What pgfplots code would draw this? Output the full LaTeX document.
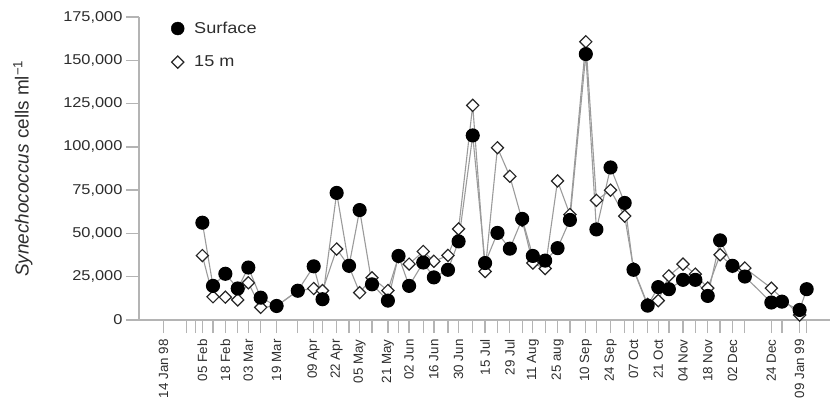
\documentclass[border=0pt]{standalone}
\usepackage{fontspec}
\setmainfont{Liberation Sans}
\newfontfamily\widefont{Liberation Sans}[FakeStretch=1.15]
\usepackage{pgfplots}
\usepackage{pgfplotstable}
\pgfplotsset{compat=1.18}

\definecolor{axisgray}{RGB}{180,180,180}
\definecolor{linegray}{RGB}{155,155,155}
\definecolor{txt}{RGB}{45,45,45}

% day of 1998 (1 Jan 98 = 1), Surface and 15 m cells per ml
\pgfplotstableread{
day surf deep
36  56200  37200
42  19700  13400
49  26700  13200
56  18200  11600
62  30300  21500
69  12900   7300
78   8100   8000
90  16900  16900
99  31000  18200
104 12000  17000
112 73400  41000
119 31300  31000
125 63500  15800
132 20600  24400
141 11200  17000
147 37000  36500
153 19700  32300
161 33200  39600
167 24600  33900
175 29000  37300
181 45400  52600
189 106600 124000
196 32900  28000
203 50300  99500
210 41200  83000
217 58400  57500
223 37000  32900
230 34300  29700
237 41500  80300
244 57800  60900
253 153600 160700
259 52300  69100
267 88100  75000
275 67600  60000
280 29000  29500
288  8300   9000
294 19000  11200
300 17800  25500
308 23200  32300
315 23200  26500
322 13900  18400
329 46000  37700
336 31300  31000
343 25100  30000
358 10100  18400
364 10600  nan
374  5800   2900
378 17800  nan
}\samples

\begin{document}
\begin{tikzpicture}
\path[use as bounding box] (-139bp,-80bp) rectangle (691bp,320bp);
\begin{axis}[
  at={(0,0)}, anchor=south west,
  scale only axis, width=691bp, height=303bp,
  xmin=0.13, xmax=391.2, ymin=0, ymax=175000,
  axis lines*=left,
  axis line style={axisgray, line width=1.6bp},
  tick style={axisgray, line width=1.3bp},
  tick align=outside, major tick length=13bp, minor tick length=13bp,
  xtick={14,36,49,62,78,99,112,125,141,153,167,181,196,210,223,237,253,267,280,294,308,322,336,358,374},
  xticklabels={14 Jan 98,05 Feb,18 Feb,03 Mar,19 Mar,09 Apr,22 Apr,05 May,21 May,02 Jun,16 Jun,30 Jun,15 Jul,29 Jul,11 Aug,25 aug,10 Sep,24 Sep,07 Oct,21 Oct,04 Nov,18 Nov,02 Dec,24 Dec,09 Jan 99},
  minor xtick={27,32,42,56,69,90,104,119,132,147,161,175,189,203,217,230,244,259,275,288,300,315,329,343,364,378},
  xticklabel shift=3bp,
  xticklabel style={rotate=90, anchor=east, text=txt, font=\fontsize{13.4}{14}\selectfont},
  ytick={0,25000,50000,75000,100000,125000,150000,175000},
  scaled y ticks=false,
  yticklabel style={text=txt, font=\widefont\fontsize{14.3}{15}\selectfont,
    /pgf/number format/.cd, fixed, 1000 sep={,}, assume math mode=true},
  ylabel={\textit{Synechococcus} cells ml\textsuperscript{−1}},
  ylabel style={at={(axis description cs:-0.168,0.5)}, anchor=center, rotate=0,
    text=txt, font=\fontsize{19}{21}\selectfont},
  clip=false,
  legend cell align=left,
  legend style={draw=none, fill=none, at={(rel axis cs:0.042,0.997)}, anchor=north west,
    text=txt, font=\widefont\fontsize{15.8}{18}\selectfont, row sep=17bp,
    /tikz/every odd column/.append style={column sep=8bp}},
]
\addplot[linegray, line width=1.1bp, mark=square*, mark size=4.3bp,
  mark options={rotate=45, fill=white, draw=black!85, line width=1.2bp}, forget plot]
  table[x=day, y=deep] {\samples};
\addplot[linegray, line width=1.1bp, mark=*, mark size=6.5bp,
  mark options={fill=black, draw=black}, forget plot]
  table[x=day, y=surf] {\samples};
\addlegendimage{only marks, mark=*, mark size=6.5bp, mark options={fill=black, draw=black}}
\addlegendentry{Surface}
\addlegendimage{only marks, mark=square*, mark size=4.3bp,
  mark options={rotate=45, fill=white, draw=black!85, line width=1.2bp}}
\addlegendentry{15 m}
\end{axis}
\end{tikzpicture}
\end{document}
